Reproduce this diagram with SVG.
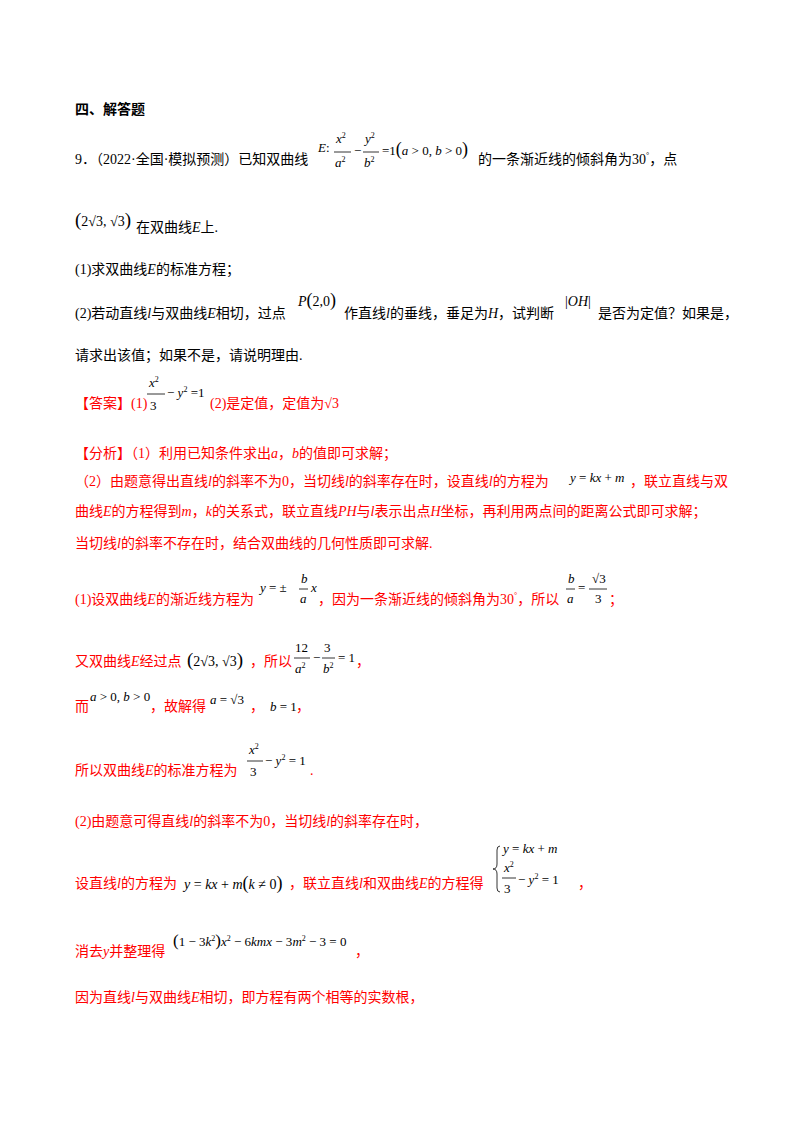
<svg xmlns="http://www.w3.org/2000/svg" width="800" height="1132" viewBox="0 0 800 1132">
<style>
text{font-family:"Liberation Serif","Noto Sans CJK SC",serif;font-size:14px;fill:#000}
.r{fill:#ff0000}
.m{font-family:"Liberation Serif",serif;font-style:italic}
.n{font-family:"Liberation Serif",serif;font-style:normal}
.s{font-size:13px}
.sup{font-size:8px}
line{stroke:#000;stroke-width:0.8}
</style>
<rect width="800" height="1132" fill="#fff"/>
<g id="heading"><text x="75" y="114" style="font-weight:bold;font-family:'Noto Sans CJK SC',sans-serif">四、解答题</text></g>
<g id="q9">
<text x="75" y="164">9．（2022·全国·模拟预测）已知双曲线</text>
<text x="318" y="152" class="m s">E<tspan class="n">:</tspan></text>
<text x="336" y="143" class="m s">x<tspan class="sup n" dy="-5">2</tspan></text>
<line x1="334" y1="152" x2="351" y2="152"/>
<text x="335" y="167" class="m s">a<tspan class="sup n" dy="-5">2</tspan></text>
<text x="354" y="155" class="n s">−</text>
<text x="365" y="143" class="m s">y<tspan class="sup n" dy="-5">2</tspan></text>
<line x1="363" y1="152" x2="379" y2="152"/>
<text x="364" y="167" class="m s">b<tspan class="sup n" dy="-5">2</tspan></text>
<text x="382" y="155" class="n s">=1<tspan font-size="18">(</tspan><tspan class="m">a</tspan> &gt; 0, <tspan class="m">b</tspan> &gt; 0<tspan font-size="18">)</tspan></text>
<text x="478" y="164">的一条渐近线的倾斜角为<tspan class="n">30</tspan><tspan class="sup" dy="-6">°</tspan><tspan dy="6">，点</tspan></text>
<text x="75" y="226" class="n" font-size="15"><tspan font-size="19">(</tspan>2√3, √3<tspan font-size="19">)</tspan></text>
<text x="136" y="232">在双曲线<tspan class="m">E</tspan>上.</text>
<text x="75" y="274">(1)求双曲线<tspan class="m">E</tspan>的标准方程；</text>
<text x="75" y="318">(2)若动直线<tspan class="m">l</tspan>与双曲线<tspan class="m">E</tspan>相切，过点</text>
<text x="298" y="306" class="m">P<tspan class="n"><tspan font-size="18">(</tspan>2,0<tspan font-size="18">)</tspan></tspan></text>
<text x="344" y="318">作直线<tspan class="m">l</tspan>的垂线，垂足为<tspan class="m">H</tspan>，试判断</text>
<text x="565" y="306" class="m"><tspan class="n">|</tspan>OH<tspan class="n">|</tspan></text>
<text x="598" y="318">是否为定值？如果是，</text>
<text x="75" y="360">请求出该值；如果不是，请说明理由.</text>
</g>
<g id="answer">
<text x="75" y="408" class="r">【答案】(1)</text>
<text x="149" y="387" class="m s">x<tspan class="sup n" dy="-5">2</tspan></text>
<line x1="147" y1="394" x2="165" y2="394"/>
<text x="150" y="410" class="n s">3</text>
<text x="167" y="397" class="n s">− <tspan class="m">y</tspan><tspan class="sup" dy="-5">2</tspan><tspan dy="5"> =1</tspan></text>
<text x="210" y="408" class="r">(2)是定值，定值为<tspan class="n">√3</tspan></text>
</g>
<g id="analysis">
<text x="75" y="458" class="r">【分析】（1）利用已知条件求出<tspan class="m">a</tspan>，<tspan class="m">b</tspan>的值即可求解；</text>
<text x="75" y="486" class="r">（2）由题意得出直线<tspan class="m">l</tspan>的斜率不为0，当切线<tspan class="m">l</tspan>的斜率存在时，设直线<tspan class="m">l</tspan>的方程为</text>
<text x="570" y="482" class="m s">y<tspan class="n"> = </tspan>kx<tspan class="n"> + </tspan>m</text>
<text x="630" y="486" class="r">，联立直线与双</text>
<text x="75" y="516" class="r">曲线<tspan class="m">E</tspan>的方程得到<tspan class="m">m</tspan>，<tspan class="m">k</tspan>的关系式，联立直线<tspan class="m">PH</tspan>与<tspan class="m">l</tspan>表示出点<tspan class="m">H</tspan>坐标，再利用两点间的距离公式即可求解；</text>
<text x="75" y="548" class="r">当切线<tspan class="m">l</tspan>的斜率不存在时，结合双曲线的几何性质即可求解.</text>
</g>
<g id="sol1">
<text x="75" y="604" class="r">(1)设双曲线<tspan class="m">E</tspan>的渐近线方程为</text>
<text x="260" y="592" class="m s">y<tspan class="n"> = ±</tspan></text>
<text x="301" y="583" class="m s">b</text>
<line x1="299" y1="589" x2="308" y2="589"/>
<text x="300" y="603" class="m s">a</text>
<text x="311" y="592" class="m s">x</text>
<text x="318" y="604" class="r">，因为一条渐近线的倾斜角为<tspan class="n">30</tspan><tspan class="sup" dy="-6">°</tspan><tspan dy="6">，所以</tspan></text>
<text x="568" y="583" class="m s">b</text>
<line x1="566" y1="589" x2="575" y2="589"/>
<text x="567" y="603" class="m s">a</text>
<text x="578" y="592" class="n s">=</text>
<text x="592" y="583" class="n s">√3</text>
<line x1="589" y1="589" x2="607" y2="589"/>
<text x="595" y="603" class="n s">3</text>
<text x="609" y="604" class="r">；</text>
<text x="75" y="666" class="r">又双曲线<tspan class="m">E</tspan>经过点</text>
<text x="187" y="666" class="n" font-size="15"><tspan font-size="19">(</tspan>2√3, √3<tspan font-size="19">)</tspan></text>
<text x="250" y="666" class="r">，所以</text>
<text x="295" y="652" class="n s">12</text>
<line x1="294" y1="658" x2="310" y2="658"/>
<text x="295" y="673" class="m s">a<tspan class="sup n" dy="-5">2</tspan></text>
<text x="313" y="662" class="n s">−</text>
<text x="324" y="652" class="n s">3</text>
<line x1="322" y1="658" x2="335" y2="658"/>
<text x="323" y="673" class="m s">b<tspan class="sup n" dy="-5">2</tspan></text>
<text x="338" y="662" class="n s">= 1</text>
<text x="356" y="666" class="r">，</text>
<text x="75" y="711" class="r">而</text>
<text x="90" y="701" class="m s">a<tspan class="n"> &gt; 0, </tspan>b<tspan class="n"> &gt; 0</tspan></text>
<text x="150" y="711" class="r">，故解得</text>
<text x="210" y="704" class="m s">a<tspan class="n"> = √3</tspan></text>
<text x="250" y="711" class="r">，</text>
<text x="270" y="711" class="m s">b<tspan class="n"> = 1</tspan></text>
<text x="296" y="711" class="r">，</text>
<text x="75" y="775" class="r">所以双曲线<tspan class="m">E</tspan>的标准方程为</text>
<text x="249" y="754" class="m s">x<tspan class="sup n" dy="-5">2</tspan></text>
<line x1="247" y1="761" x2="263" y2="761"/>
<text x="250" y="776" class="n s">3</text>
<text x="265" y="765" class="n s">− <tspan class="m">y</tspan><tspan class="sup" dy="-5">2</tspan><tspan dy="5"> = 1</tspan></text>
<text x="310" y="775" class="r">.</text>
</g>
<g id="sol2">
<text x="75" y="826" class="r">(2)由题意可得直线<tspan class="m">l</tspan>的斜率不为<tspan class="n">0</tspan>，当切线<tspan class="m">l</tspan>的斜率存在时，</text>
<text x="75" y="888" class="r">设直线<tspan class="m">l</tspan>的方程为</text>
<text x="184" y="889" class="m">y<tspan class="n"> = </tspan>kx<tspan class="n"> + </tspan>m<tspan class="n"><tspan font-size="18">(</tspan></tspan>k<tspan class="n"> ≠ 0<tspan font-size="18">)</tspan></tspan></text>
<text x="289" y="888" class="r">，联立直线<tspan class="m">l</tspan>和双曲线<tspan class="m">E</tspan>的方程得</text>
<path d="M500,846 q-3,0 -3,4 v14 q0,5 -4,5 q4,0 4,5 v14 q0,4 3,4" fill="none" stroke="#000" stroke-width="0.8"/>
<text x="503" y="853" class="m s">y<tspan class="n"> = </tspan>kx<tspan class="n"> + </tspan>m</text>
<text x="504" y="872" class="m s">x<tspan class="sup n" dy="-5">2</tspan></text>
<line x1="502" y1="878" x2="516" y2="878"/>
<text x="504" y="893" class="n s">3</text>
<text x="518" y="884" class="n s">− <tspan class="m">y</tspan><tspan class="sup" dy="-5">2</tspan><tspan dy="5"> = 1</tspan></text>
<text x="578" y="888" class="r">，</text>
<text x="75" y="956" class="r">消去<tspan class="m">y</tspan>并整理得</text>
<text x="173" y="946" class="n s"><tspan font-size="17">(</tspan>1 − 3<tspan class="m">k</tspan><tspan class="sup" dy="-5">2</tspan><tspan dy="5" font-size="17">)</tspan><tspan class="m">x</tspan><tspan class="sup" dy="-5">2</tspan><tspan dy="5"> − 6</tspan><tspan class="m">kmx</tspan> − 3<tspan class="m">m</tspan><tspan class="sup" dy="-5">2</tspan><tspan dy="5"> − 3 = 0</tspan></text>
<text x="355" y="956" class="r">，</text>
<text x="75" y="1002" class="r">因为直线<tspan class="m">l</tspan>与双曲线<tspan class="m">E</tspan>相切，即方程有两个相等的实数根，</text>
</g>
</svg>
